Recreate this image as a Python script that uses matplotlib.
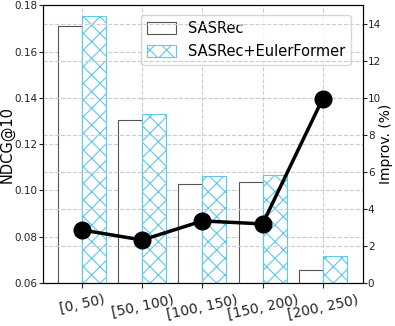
import matplotlib
matplotlib.use("Agg")
import matplotlib.pyplot as plt
import numpy as np

categories = ["[0, 50)", "[50, 100)", "[100, 150)", "[150, 200)", "[200, 250)"]
sasrec = [0.1709, 0.1304, 0.1028, 0.1037, 0.0656]
euler = [0.1755, 0.1331, 0.1063, 0.1067, 0.0718]
improv = [2.86, 2.32, 3.35, 3.19, 9.95]

plt.rcParams['hatch.linewidth'] = 0.8
fig = plt.figure(figsize=(3.95, 3.26), dpi=100)
ax = fig.add_axes([0.109, 0.132, 0.81, 0.852])
x = np.arange(len(categories))
w = 0.4
ax.bar(x - w / 2, sasrec, w, facecolor='white', edgecolor='#555555', linewidth=0.8, label='SASRec', zorder=2)
ax.bar(x + w / 2, euler, w, facecolor='white', edgecolor='#5bc8ee', hatch='xx', linewidth=0.8, label='SASRec+EulerFormer', zorder=2)
ax.set_ylim(0.06, 0.18)
ax.set_xticks(x)
ax.set_xticklabels(categories, rotation=12, fontsize=10, ha='center')
ax.set_ylabel('NDCG@10', fontsize=10.5)
ax.yaxis.set_label_coords(-0.088, 0.5)
ax.tick_params(axis='y', labelsize=7.5, colors='#222222', length=3, pad=1)
ax.tick_params(axis='x', colors='#222222')
ax.grid(True, linestyle='--', color='#cccccc', linewidth=0.8, zorder=0)
ax.set_axisbelow(True)
ax.legend(loc='upper right', fontsize=10.5, handlelength=2.0, handleheight=0.85,
          labelspacing=0.55, bbox_to_anchor=(0.985, 0.99))

ax2 = ax.twinx()
ax2.plot(x, improv, color='black', linewidth=2.5, marker='o', markersize=12, zorder=3)
ax2.set_ylim(0, 15)
ax2.set_ylabel('Improv. (%)', fontsize=10)
ax2.yaxis.set_label_coords(1.05, 0.5)
ax2.tick_params(axis='y', labelsize=7.5, colors='#222222', length=3, pad=0.5)
ax2.grid(True, axis='y', linestyle='--', color='#cccccc', linewidth=0.8)
ax.set_xlim(-0.65, 4.67)

fig.savefig('out.png', dpi=100)
